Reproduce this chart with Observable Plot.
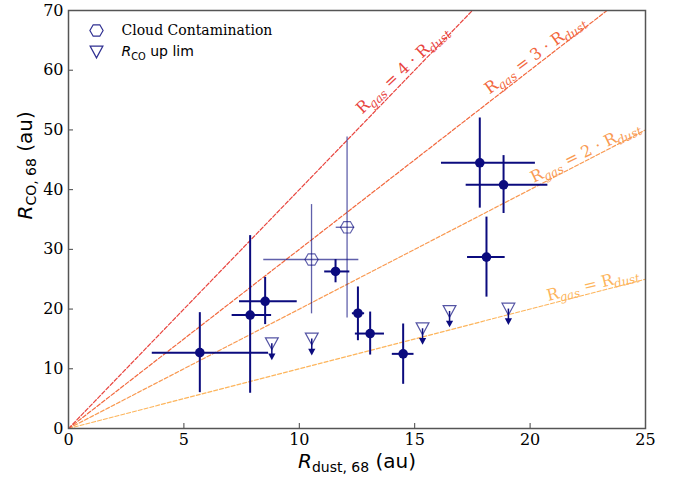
<!DOCTYPE html>
<html><head><meta charset="utf-8">
<script src="https://cdn.jsdelivr.net/npm/d3@7"></script>
<script src="https://cdn.jsdelivr.net/npm/@observablehq/plot@0.6"></script>
<style>html,body{margin:0;padding:0;background:#fff}</style>
</head><body><div id="chart"></div>
<script>
// ---- data (au) ----
const dustR   = [5.69, 7.87, 8.52, 11.57, 12.54, 13.07, 14.50, 17.82, 18.85, 18.11];
const dustLo  = [3.63, 7.09, 7.41, 11.10, 12.30, 12.43, 14.03, 16.16, 17.23, 17.29];
const dustHi  = [8.67, 8.80, 9.91, 12.19, 12.83, 13.69, 14.97, 20.23, 20.77, 18.92];
const coR     = [12.7, 19.0, 21.3, 26.3, 19.3, 15.9, 12.5, 44.5, 40.8, 28.7];
const coLo    = [6.0, 5.9, 17.4, 24.4, 14.7, 12.3, 7.4, 36.9, 36.0, 22.0];
const coHi    = [19.4, 32.3, 25.3, 28.3, 23.7, 19.5, 17.5, 52.0, 45.7, 35.4];

const cloudDust   = [10.53, 12.07];
const cloudDustLo = [8.46, 11.60];
const cloudDustHi = [12.58, 12.40];
const cloudCO     = [28.3, 33.7];
const cloudCOLo   = [19.2, 18.5];
const cloudCOHi   = [37.5, 48.8];

const limDust = [8.81, 10.54, 15.34, 16.51, 19.06];
const limCO   = [14.2, 15.0, 16.7, 19.6, 20.0];
const limTip  = [12.0, 12.8, 14.6, 17.5, 17.9];

const ratios      = [1, 2, 3, 4];
const ratioLabels = ["R_{gas} = R_{dust}", "R_{gas} = 2 · R_{dust}", "R_{gas} = 3 · R_{dust}", "R_{gas} = 4 · R_{dust}"];
const xTicks = [0, 5, 10, 15, 20, 25];
const yTicks = [0, 10, 20, 30, 40, 50, 60, 70];
const legendLabels = ["Cloud Contamination", "R_{CO} up lim"];
const xLabel = "R_{dust, 68} (au)";
const yLabel = "R_{CO, 68} (au)";

// ---- layout / style ----
const W = 676, H = 479, mL = 68, mR = 31, mT = 10, mB = 51;
const xDomain = [0, 25], yDomain = [0, 70];
const navy = "#0b0b7e";
const SERIF = "'DejaVu Serif', serif";
const SANS = "'DejaVu Sans', sans-serif";
const ratioColors = ["#fdb55c", "#f99a52", "#f2683d", "#e8453f"];
const labelAt = [22.8, 22.55, 20.45, 14.75];
const labelAngle = [14, 26, 36, 43];
const labelPerp = [8, 8, 9, 9];

const hexFlat = {draw(ctx, size) {
  const r = Math.sqrt(size / Math.PI);
  for (let i = 0; i < 6; i++) {
    const a = i * Math.PI / 3;
    const px = r * Math.cos(a), py = r * Math.sin(a);
    if (i === 0) ctx.moveTo(px, py); else ctx.lineTo(px, py);
  }
  ctx.closePath();
}};
const triDown = {draw(ctx, size) {
  const r = Math.sqrt(size / Math.PI);
  ctx.moveTo(-r, -0.92 * r); ctx.lineTo(r, -0.92 * r); ctx.lineTo(0, 0.92 * r); ctx.closePath();
}};

const detected = dustR.map((d, i) => ({x: d, xlo: dustLo[i], xhi: dustHi[i], y: coR[i], ylo: coLo[i], yhi: coHi[i]}));
const cloud = cloudDust.map((d, i) => ({x: d, xlo: cloudDustLo[i], xhi: cloudDustHi[i], y: cloudCO[i], ylo: cloudCOLo[i], yhi: cloudCOHi[i]}));
const limits = limDust.map((d, i) => ({x: d, y: limCO[i], tip: limTip[i]}));

const pxX = (W - mL - mR) / (xDomain[1] - xDomain[0]);
const pxY = (H - mT - mB) / (yDomain[1] - yDomain[0]);

const ratioMarks = ratios.flatMap((k, i) => {
  const theta = Math.atan(k * pxY / pxX);
  const p = labelPerp[i];
  return [
    Plot.line(xDomain.map(x => ({x, y: k * x})), {x: "x", y: "y", stroke: ratioColors[i], strokeWidth: 1.2, strokeDasharray: "4,2", clip: true}),
    Plot.text([ratioLabels[i]], {x: () => labelAt[i], y: () => k * labelAt[i], text: d => d,
      rotate: -labelAngle[i], fill: ratioColors[i], fontFamily: SERIF, fontSize: 16,
      textAnchor: "middle", lineAnchor: "middle",
      dx: -p * Math.sin(theta), dy: -p * Math.cos(theta)})
  ];
});

const plot = Plot.plot({
  width: W, height: H,
  marginLeft: mL, marginRight: mR, marginTop: mT, marginBottom: mB,
  x: {domain: xDomain},
  y: {domain: yDomain},
  style: {fontFamily: SERIF, fontSize: "16px", background: "#fff", color: "#000", overflow: "visible"},
  marks: [
    ...ratioMarks,
    // cloud-contaminated
    Plot.ruleY(cloud, {y: "y", x1: "xlo", x2: "xhi", stroke: navy, strokeOpacity: 0.65, strokeWidth: 1.3}),
    Plot.ruleX(cloud, {x: "x", y1: "ylo", y2: "yhi", stroke: navy, strokeOpacity: 0.65, strokeWidth: 1.3}),
    Plot.dot(cloud, {x: "x", y: "y", symbol: hexFlat, r: 6.6, stroke: navy, strokeOpacity: 0.65, strokeWidth: 1.2, fill: "none"}),
    // detections
    Plot.ruleY(detected, {y: "y", x1: "xlo", x2: "xhi", stroke: navy, strokeWidth: 2}),
    Plot.ruleX(detected, {x: "x", y1: "ylo", y2: "yhi", stroke: navy, strokeWidth: 2}),
    Plot.dot(detected, {x: "x", y: "y", r: 4.8, fill: navy, stroke: "none"}),
    // upper limits
    Plot.ruleX(limits, {x: "x", y1: "y", y2: "tip", stroke: navy, strokeWidth: 1.5}),
    Plot.dot(limits, {x: "x", y: "tip", symbol: triDown, r: 3.6, fill: navy, stroke: "none"}),
    Plot.dot(limits, {x: "x", y: "y", symbol: triDown, r: 6.4, stroke: navy, strokeOpacity: 0.7, strokeWidth: 1.2, fill: "none"}),
    // legend
    Plot.dot([0], {frameAnchor: "top-left", dx: 28, dy: 20, symbol: hexFlat, r: 6.6, stroke: navy, strokeOpacity: 0.85, strokeWidth: 1.2, fill: "none"}),
    Plot.dot([0], {frameAnchor: "top-left", dx: 28, dy: 41.5, symbol: triDown, r: 6.4, stroke: navy, strokeOpacity: 0.85, strokeWidth: 1.2, fill: "none"}),
    Plot.text([legendLabels[0]], {frameAnchor: "top-left", dx: 53, dy: 20, text: d => d, textAnchor: "start", lineAnchor: "middle", fontFamily: SERIF, fontSize: 14}),
    Plot.text([legendLabels[1]], {frameAnchor: "top-left", dx: 53, dy: 41.5, text: d => d, textAnchor: "start", lineAnchor: "middle", fontFamily: SANS, fontSize: 14}),
    // axes
    Plot.axisX({ticks: xTicks, tickSize: -5, tickPadding: 10, label: null, fontSize: 16, fontFamily: SERIF, stroke: "#444"}),
    Plot.axisY({ticks: yTicks, tickSize: -5, tickPadding: 10, label: null, fontSize: 16, fontFamily: SERIF, stroke: "#444"}),
    Plot.text([xLabel], {frameAnchor: "bottom", dy: 33, text: d => d, lineAnchor: "middle", fontFamily: SANS, fontSize: 20}),
    Plot.text([yLabel], {frameAnchor: "left", dx: -43, rotate: -90, text: d => d, lineAnchor: "middle", fontFamily: SANS, fontSize: 20}),
    Plot.frame({stroke: "#555", strokeWidth: 1.5})
  ]
});

document.getElementById("chart").appendChild(plot);

// ---- rich text: subscripts ----
const NS = "http://www.w3.org/2000/svg";
const serifSet = new Set(ratioLabels);
plot.querySelectorAll("text").forEach(t => {
  const s = t.textContent;
  if (!s.includes("_{")) return;
  const italicSub = serifSet.has(s);
  const italicBase = !italicSub;
  const fs = parseFloat(getComputedStyle(t).fontSize) || 15;
  const parts = s.split(/(_\{[^}]*\})/).filter(p => p !== "");
  while (t.firstChild) t.removeChild(t.firstChild);
  let shift = 0;
  parts.forEach((p, j) => {
    if (p.startsWith("_{")) {
      const ts = document.createElementNS(NS, "tspan");
      ts.textContent = p.slice(2, -1);
      ts.setAttribute("font-size", fs * (italicSub ? 0.74 : 0.7));
      const d = fs * 0.22;
      ts.setAttribute("dy", d - shift);
      shift = d;
      if (italicSub) ts.setAttribute("font-style", "italic");
      t.appendChild(ts);
    } else {
      const nextSub = parts[j + 1] && parts[j + 1].startsWith("_{");
      let head = p, tail = "";
      if (italicBase && nextSub && p.endsWith("R")) { head = p.slice(0, -1); tail = "R"; }
      if (head) {
        const ts = document.createElementNS(NS, "tspan");
        ts.textContent = head;
        if (shift) { ts.setAttribute("dy", -shift); shift = 0; }
        t.appendChild(ts);
      }
      if (tail) {
        const ts = document.createElementNS(NS, "tspan");
        ts.textContent = tail;
        ts.setAttribute("font-style", "italic");
        if (shift) { ts.setAttribute("dy", -shift); shift = 0; }
        t.appendChild(ts);
      }
    }
  });
  t.setAttribute("style", (t.getAttribute("style") || "") + ";white-space:pre");
});
</script>
</body></html>
